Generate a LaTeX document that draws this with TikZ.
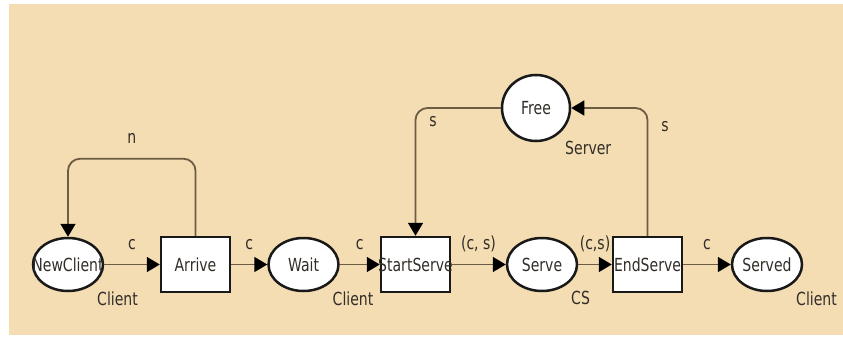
\documentclass[tikz,border=0pt]{standalone}
\usepackage{fontspec}
\setmainfont{DejaVu Sans}[FakeStretch=0.78]
\usetikzlibrary{shapes.geometric,arrows.meta}
\definecolor{bgbeige}{RGB}{244,221,179}
\definecolor{arccol}{RGB}{108,92,68}
\definecolor{nodeline}{RGB}{25,25,25}
\definecolor{labeltext}{RGB}{50,45,40}

\begin{document}
\begin{tikzpicture}[x=1pt, y=-1pt,
		every node/.style={font=\fontsize{18}{20}\selectfont, text=labeltext},
		place/.style={shape=ellipse, draw=nodeline, fill=white, line width=2.5pt, minimum width=70pt, minimum height=53pt, inner sep=0pt},
		trans/.style={shape=rectangle, draw=nodeline, fill=white, line width=2.5pt, minimum width=69pt, minimum height=55pt, inner sep=0pt},
		flow/.style={draw=arccol, line width=1.8pt, -{Triangle[length=13pt, width=15pt, color=black]}},
		arclabel/.style={anchor=base, yshift=15pt, inner sep=0pt},
		colset/.style={anchor=north west, inner sep=0pt}]
			
			\useasboundingbox (0,0) rectangle (843,337);
			\fill[bgbeige] (9,4) rectangle (843,335);
			
			% places
			\node (p1)[place, label=center:NewClient] at (68,264.5) {};
			\node (p2)[place, label=center:Wait] at (303.5,264.5) {};
			\node (p3)[place, label=center:Serve] at (542,264.5) {};
			\node (p4)[place, label=center:Served] at (767,264.5) {};
			\node (p5)[place, minimum width=68pt, minimum height=66pt, label=center:Free] at (536,108) {};
			
			% transitions
			\node (t1)[trans, label=center:Arrive] at (195.5,264.5) {};
			\node (t2)[trans, label=center:StartServe] at (415.5,264.5) {};
			\node (t3)[trans, label=center:EndServe] at (647.5,264.5) {};
			
			% colour sets
			\node (c1)[colset] at ([xshift=29pt, yshift=1pt]p1.south) {Client};
			\node (c2)[colset] at ([xshift=29pt, yshift=1pt]p2.south) {Client};
			\node (c3)[colset] at ([xshift=29pt, yshift=1pt]p3.south) {CS};
			\node (c4)[colset] at ([xshift=29pt, yshift=1pt]p4.south) {Client};
			\node (c5)[colset] at ([xshift=29pt, yshift=1pt]p5.south) {Server};
			
			\path[flow] (p1) edge node[arclabel]{c} (t1);
			\path[flow] (t1) edge node[arclabel]{c} (p2);
			\path[flow] (p2) edge node[arclabel]{c} (t2);
			\path[flow] (t2) edge node[arclabel]{(c, s)} (p3);
			\path[flow] (p3) edge node[arclabel]{(c,s)} (t3);
			\path[flow] (t3) edge node[arclabel]{c} (p4);
			
			\draw[flow, rounded corners=12pt] (t1.north) -- ++(0,-77) -| node[arclabel, pos=0.25]{n} (p1.north);
			\draw[flow, rounded corners=12pt] (p5) -| node[pos=0.555, anchor=west, xshift=13pt, inner sep=0pt]{s} (t2);
			\draw[flow, rounded corners=12pt] (t3) |- node[pos=0.426, anchor=west, xshift=13pt, inner sep=0pt]{s} (p5);
		\end{tikzpicture}
\end{document}
